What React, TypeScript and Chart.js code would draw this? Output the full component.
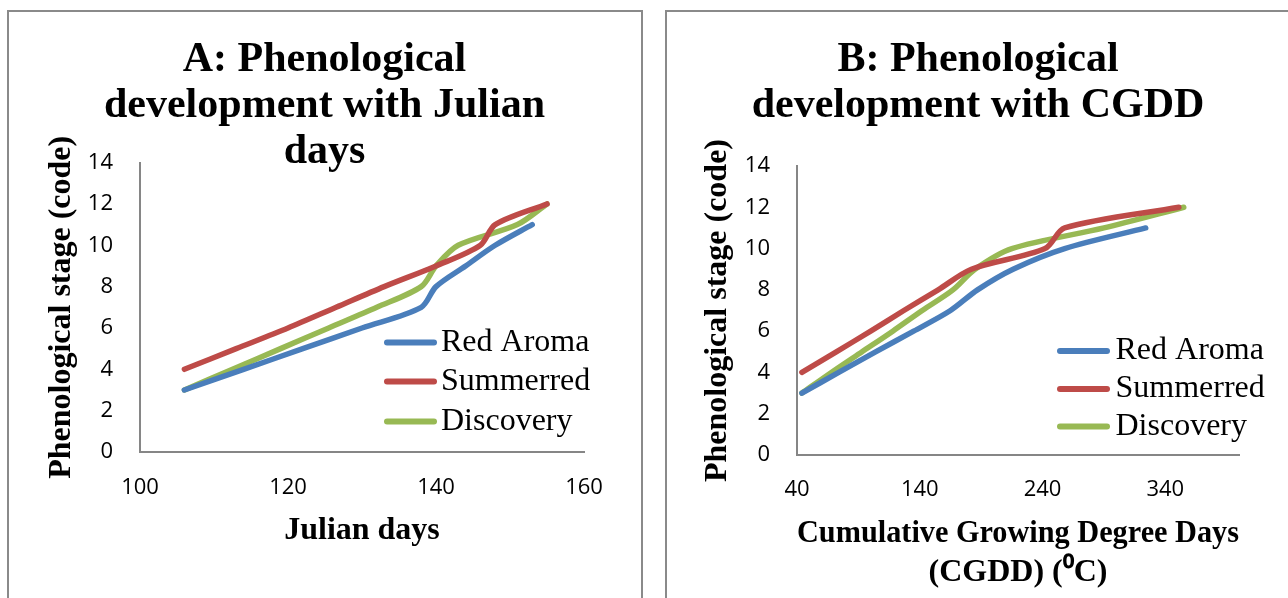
import React, { useEffect, useRef } from "react";
import { Chart, registerables } from "chart.js";

Chart.register(...registerables);

// ---------- Data: Chart A (Julian days) ----------
const seriesNames = ["Red Aroma", "Summerred", "Discovery"];
const seriesColors = ["#4A7EBB", "#BE4B48", "#98B954"];

const julianRedAromaX = [106, 114, 122, 130, 138, 140, 144, 148, 153];
const julianRedAromaY = [3, 4, 5, 6, 7, 8, 9, 10, 11];
const julianSummerredX = [106, 113, 120, 126.5, 133, 140, 146, 148, 155];
const julianSummerredY = [4, 5, 6, 7, 8, 9, 10, 11, 12];
const julianDiscoveryX = [106, 112.5, 119, 125.5, 132, 138, 140, 143, 151, 155];
const julianDiscoveryY = [3, 4, 5, 6, 7, 8, 9, 10, 11, 12];
const julianTicks = [100, 120, 140, 160];

// ---------- Data: Chart B (CGDD) ----------
const cgddRedAromaX = [44, 74, 104, 135, 165, 187, 216, 258, 324];
const cgddRedAromaY = [3, 4, 5, 6, 7, 8, 9, 10, 11];
const cgddSummerredX = [44, 72, 100, 127, 155, 182, 242, 258, 351];
const cgddSummerredY = [4, 5, 6, 7, 8, 9, 10, 11, 12];
const cgddDiscoveryX = [44, 68, 93, 118, 142, 167, 185, 215, 290, 355];
const cgddDiscoveryY = [3, 4, 5, 6, 7, 8, 9, 10, 11, 12];
const cgddTicks = [40, 140, 240, 340];

const stageTicks = [0, 2, 4, 6, 8, 10, 12, 14];

const titleA = ["A: Phenological", "development with Julian", "days"];
const titleB = ["B: Phenological", "development with CGDD"];
const xTitleA = "Julian days";
const xTitleB = ["Cumulative Growing Degree Days", "(CGDD) (\u2070C)"];
const yTitle = "Phenological stage (code)";

const SERIF = '"Liberation Serif", "Times New Roman", serif';
const SANS = '"Open Sans", "Liberation Sans", sans-serif';

function pts(xs: number[], ys: number[]) {
  return xs.map((x, i) => ({ x, y: ys[i] }));
}

function makeDatasets(xsList: number[][], ysList: number[][]) {
  return xsList.map((xs, i) => ({
    label: seriesNames[i],
    data: pts(xs, ysList[i]),
    borderColor: seriesColors[i],
    backgroundColor: seriesColors[i],
    borderWidth: 5.5,
    borderCapStyle: "round" as const,
    borderJoinStyle: "round" as const,
    pointRadius: 0,
    tension: 0.3,
    fill: false,
  }));
}

type LegendPos = { lineStart: number; lineEnd: number; textStart: number; rows: number[] };

function legendPlugin(pos: LegendPos) {
  return {
    id: "insideLegend",
    afterDraw(chart: any) {
      const { ctx, chartArea } = chart;
      ctx.save();
      chart.data.datasets.forEach((ds: any, i: number) => {
        const y = chartArea.bottom - pos.rows[i];
        ctx.strokeStyle = ds.borderColor;
        ctx.lineWidth = 6;
        ctx.lineCap = "round";
        ctx.beginPath();
        ctx.moveTo(chartArea.right - pos.lineStart, y);
        ctx.lineTo(chartArea.right - pos.lineEnd, y);
        ctx.stroke();
        ctx.fillStyle = "#000";
        ctx.font = `32px ${SERIF}`;
        ctx.textBaseline = "middle";
        ctx.textAlign = "left";
        ctx.fillText(ds.label, chartArea.right - pos.textStart, y);
      });
      ctx.restore();
    },
  };
}

type Cfg = {
  datasets: any[];
  title: string[];
  titlePad: { top: number; bottom: number };
  xMin: number;
  xMax: number;
  xTicks: number[];
  xTitle: string | string[];
  xTitleLineHeight: number;
  xTitlePadBottom: number;
  xTickPad: number;
  xHeight: number;
  yWidth: number;
  yTickPad: number;
  yTitlePadTop: number;
  rightPad: number;
  legend: LegendPos;
};

function buildConfig(c: Cfg): any {
  return {
    type: "line",
    data: { datasets: c.datasets },
    plugins: [legendPlugin(c.legend)],
    options: {
      animation: false,
      responsive: false,
      devicePixelRatio: 1,
      layout: { padding: 0 },
      plugins: {
        legend: { display: false },
        tooltip: { enabled: false },
        title: {
          display: true,
          text: c.title,
          color: "#000",
          font: { family: SERIF, size: 42, weight: "bold", lineHeight: 1.1 },
          padding: c.titlePad,
        },
      },
      scales: {
        x: {
          type: "linear",
          position: "bottom",
          min: c.xMin,
          max: c.xMax,
          afterBuildTicks: (s: any) => {
            s.ticks = c.xTicks.map((v) => ({ value: v }));
          },
          afterFit: (s: any) => {
            s.height = c.xHeight;
          },
          grid: { display: false, drawTicks: false },
          border: { display: true, color: "#868686", width: 2 },
          ticks: {
            color: "#000",
            padding: c.xTickPad,
            maxRotation: 0,
            autoSkip: false,
            font: { family: SANS, size: 22 },
          },
          title: {
            display: true,
            text: c.xTitle,
            color: "#000",
            font: { family: SERIF, size: 32, weight: "bold", lineHeight: c.xTitleLineHeight },
            padding: { top: 0, bottom: c.xTitlePadBottom },
          },
        },
        y: {
          type: "linear",
          position: "left",
          min: 0,
          max: 14,
          afterBuildTicks: (s: any) => {
            s.ticks = stageTicks.map((v) => ({ value: v }));
          },
          afterFit: (s: any) => {
            s.width = c.yWidth;
          },
          grid: { display: false, drawTicks: false },
          border: { display: true, color: "#868686", width: 2 },
          ticks: {
            color: "#000",
            padding: c.yTickPad,
            font: { family: SANS, size: 22 },
          },
          title: {
            display: true,
            text: yTitle,
            color: "#000",
            font: { family: SERIF, size: 32, weight: "bold", lineHeight: 1.2 },
            padding: { top: c.yTitlePadTop, bottom: 0 },
          },
        },
        rightPad: {
          type: "linear",
          position: "right",
          display: true,
          grid: { display: false, drawTicks: false },
          border: { display: false },
          ticks: { display: false },
          afterFit: (s: any) => {
            s.width = c.rightPad;
          },
        },
      },
    },
  };
}

function ChartCanvas({ cfg, width, height, style }: { cfg: () => any; width: number; height: number; style: React.CSSProperties }) {
  const ref = useRef<HTMLCanvasElement | null>(null);
  useEffect(() => {
    if (!ref.current) return;
    const chart = new Chart(ref.current, cfg());
    return () => chart.destroy();
  }, []);
  return <canvas ref={ref} width={width} height={height} style={{ position: "absolute", width, height, ...style }} />;
}

const cfgA = () =>
  buildConfig({
    datasets: makeDatasets(
      [julianRedAromaX, julianSummerredX, julianDiscoveryX],
      [julianRedAromaY, julianSummerredY, julianDiscoveryY]
    ),
    title: titleA,
    titlePad: { top: 25, bottom: -13 },
    xMin: 100,
    xMax: 160,
    xTicks: julianTicks,
    xTitle: xTitleA,
    xTitleLineHeight: 1.2,
    xTitlePadBottom: 48,
    xTickPad: 23,
    xHeight: 146,
    yWidth: 131,
    yTickPad: 27,
    yTitlePadTop: 34,
    rightPad: 56,
    legend: { lineStart: 197, lineEnd: 150, textStart: 143, rows: [109.5, 70.5, 30.5] },
  });

const cfgB = () =>
  buildConfig({
    datasets: makeDatasets(
      [cgddRedAromaX, cgddSummerredX, cgddDiscoveryX],
      [cgddRedAromaY, cgddSummerredY, cgddDiscoveryY]
    ),
    title: titleB,
    titlePad: { top: 25, bottom: 36.6 },
    xMin: 40,
    xMax: 400,
    xTicks: cgddTicks,
    xTitle: xTitleB,
    xTitleLineHeight: 1.22,
    xTitlePadBottom: 6,
    xTickPad: 22,
    xHeight: 143,
    yWidth: 129,
    yTickPad: 27,
    yTitlePadTop: 31,
    rightPad: 49,
    legend: { lineStart: 179, lineEnd: 132, textStart: 123.5, rows: [104, 66, 28.5] },
  });

export default function App() {
  return (
    <div style={{ position: "fixed", left: 0, top: 0, width: 1288, height: 598, overflow: "hidden", background: "#fff" }}>
      <div style={{ position: "absolute", left: 7, top: 10, width: 632, height: 620, border: "2px solid #8a8a8a" }} />
      <div style={{ position: "absolute", left: 665, top: 10, width: 660, height: 620, border: "2px solid #8a8a8a" }} />
      <ChartCanvas cfg={cfgA} width={631} height={586} style={{ left: 9, top: 12 }} />
      <ChartCanvas cfg={cfgB} width={620} height={586} style={{ left: 668, top: 12 }} />
    </div>
  );
}
